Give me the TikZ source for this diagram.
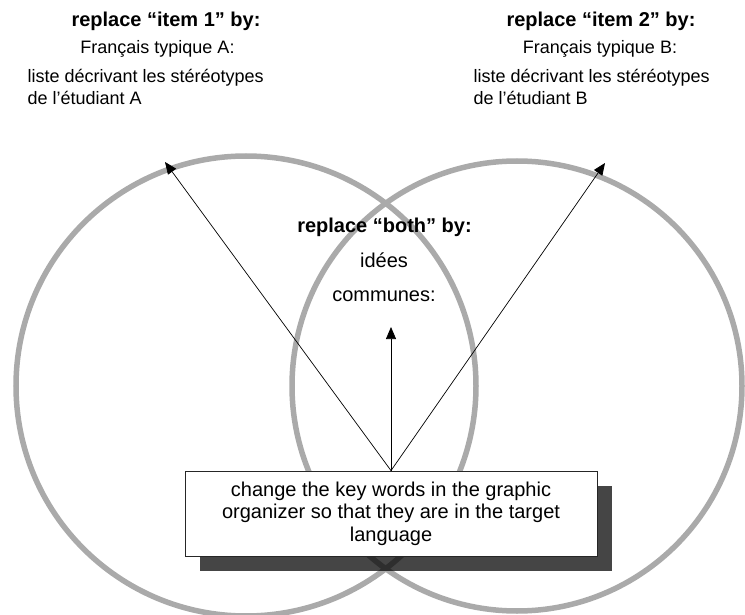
\documentclass[tikz,border=0pt]{standalone}
\usepackage{fontspec}
\setmainfont{Liberation Sans}
\usepackage[usenames,dvipsnames]{xcolor}
\usetikzlibrary{arrows.meta,shadows}

\definecolor{ringgray}{HTML}{AAAAAA}

\begin{document}
\begin{tikzpicture}[x=1pt,y=-1pt]
  \tikzstyle{Ring}=[draw=ringgray, line width=5.5pt]
  \tikzstyle{Head}=[anchor=base, font=\bfseries\fontsize{20}{24}\selectfont]
  \tikzstyle{Small}=[anchor=base, font=\fontsize{18}{22}\selectfont]
  \tikzstyle{Big}=[anchor=base, font=\fontsize{20}{24}\selectfont]
  \tikzstyle{Note}=[draw=black!85, line width=0.8pt, fill=white,
                    minimum width=412pt, minimum height=85pt, align=center,
                    font=\fontsize{20}{22.5}\selectfont,
                    drop shadow={shadow xshift=15pt, shadow yshift=-15pt,
                                 fill=black, opacity=0.73}]
  \tikzstyle{Pointer}=[-{Triangle[length=12pt,width=10pt]}, line width=0.7pt]
 \useasboundingbox (0,0) rectangle (745,615);
 % the two sets
 \draw[Ring] (246,386) circle (230);
 \draw[Ring] (517,386) circle (225);
 % instruction box
 \node[Note] (box) at (391,513.5)
   {change the key words in the graphic\\
    organizer so that they are in the target\\
    language};
 \coordinate (tipA) at (165,162);
 \coordinate (tipB) at (605,163);
 \coordinate (tipC) at (391,327);
 \draw[Pointer] (box.north) -- (tipA);
 \draw[Pointer] (box.north) -- (tipB);
 \draw[Pointer] (box.north) -- (tipC);
 % labels, left set (base = last line)
 \node[Head] (headA) at (166,27) {replace “item 1” by:};
 \node[Small] (nameA) at (157.5,54) {Français typique A:};
 \node[Small, anchor=base west, align=left] (listA) at (24,105)
   {liste décrivant les stéréotypes\\de l’étudiant A};
 % labels, right set
 \node[Head] (headB) at (601,27) {replace “item 2” by:};
 \node[Small] (nameB) at (600,54) {Français typique B:};
 \node[Small, anchor=base west, align=left] (listB) at (470,105)
   {liste décrivant les stéréotypes\\de l’étudiant B};
 % labels, overlap
 \node[Head] (headC) at (384.5,233) {replace “both” by:};
 \node[Big] (ideas) at (384,267) {idées};
 \node[Big] (common) at (384,301) {communes:};
\end{tikzpicture}
\end{document}
